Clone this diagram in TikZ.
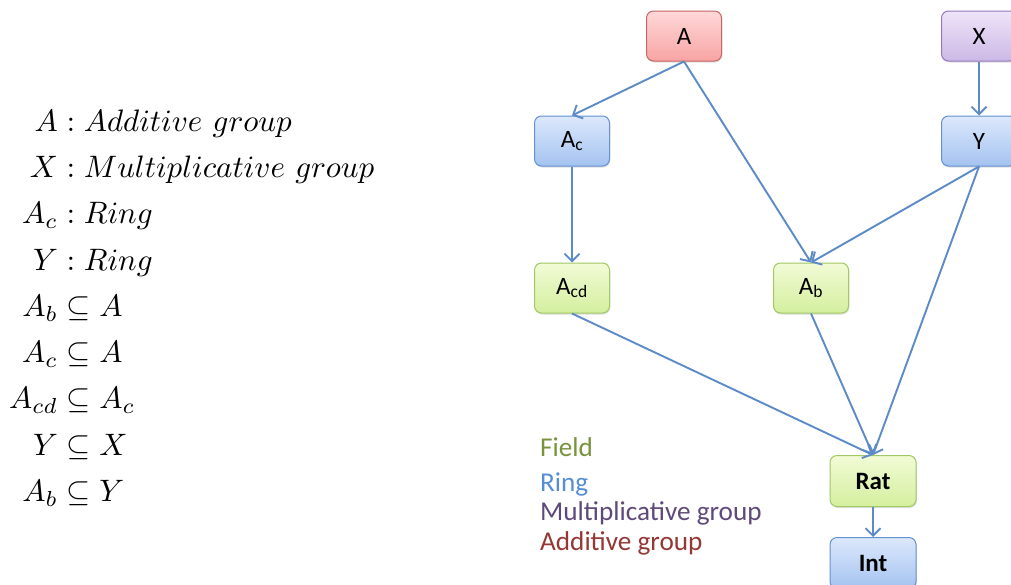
\documentclass[tikz,border=0pt]{standalone}
\usepackage{amsmath}
\usepackage{fontspec}
\newfontfamily\carlito{Carlito}
\usetikzlibrary{arrows.meta,shadows}
\definecolor{edgeblue}{RGB}{92,139,200}
\definecolor{fieldc}{HTML}{77933C}
\definecolor{ringc}{HTML}{558ED5}
\definecolor{multc}{HTML}{5F497A}
\definecolor{addc}{HTML}{953735}
\definecolor{redtop}{RGB}{255,216,216}\definecolor{redbot}{RGB}{248,164,164}\definecolor{redline}{RGB}{200,100,100}
\definecolor{purtop}{RGB}{238,228,248}\definecolor{purbot}{RGB}{204,184,230}\definecolor{purline}{RGB}{150,120,190}
\definecolor{blutop}{RGB}{220,232,252}\definecolor{blubot}{RGB}{164,195,240}\definecolor{bluline}{RGB}{100,145,210}
\definecolor{grntop}{RGB}{242,251,214}\definecolor{grnbot}{RGB}{212,239,158}\definecolor{grnline}{RGB}{160,200,100}
\tikzset{
  box/.style={rectangle, rounded corners=7pt, minimum width=75pt, minimum height=50pt,
    line width=1pt, inner sep=0pt, font=\carlito\fontsize{25}{30}\selectfont,
    drop shadow={shadow xshift=0.8pt, shadow yshift=-1.5pt, opacity=0.25}},
  redbox/.style={box, draw=redline, top color=redtop, bottom color=redbot},
  purplebox/.style={box, draw=purline, top color=purtop, bottom color=purbot},
  bluebox/.style={box, draw=bluline, top color=blutop, bottom color=blubot},
  greenbox/.style={box, draw=grnline, top color=grntop, bottom color=grnbot},
  wide/.style={minimum width=86pt, minimum height=51pt},
  link/.style={draw=edgeblue, line width=1.9pt, -{Straight Barb[length=7.5pt,width=15pt,line width=1.9pt]}},
  legend/.style={anchor=base west, inner sep=0pt, font=\carlito\fontsize{27.2}{32}\selectfont}
}
\begin{document}
\begin{tikzpicture}[x=1pt,y=-1pt]
\clip (0,0) rectangle (1011,584);
\fill[white] (0,0) rectangle (1011,584);

\node[anchor=west, inner sep=0pt] (math) at (9,309) {\scalebox{3.1}{\setlength{\jot}{2.92pt}%
$\begin{aligned}
A &: Additive\ group\\
X &: Multiplicative\ group\\
A_c &: Ring\\
Y &: Ring\\
A_b &\subseteq A\\
A_c &\subseteq A\\
A_{cd} &\subseteq A_c\\
Y &\subseteq X\\
A_b &\subseteq Y
\end{aligned}$}};

\node[redbox] (A) at (684,36) {A};
\node[purplebox] (X) at (979,36) {X};
\node[bluebox] (Ac) at (572,141) {A\textsubscript{c}};
\node[bluebox] (Y) at (979,141) {Y};
\node[greenbox] (Acd) at (572,288) {A\textsubscript{cd}};
\node[greenbox] (Ab) at (811,288) {A\textsubscript{b}};
\node[greenbox, wide] (Rat) at (873,481) {\bfseries Rat};
\node[bluebox, wide] (Int) at (873,563) {\bfseries Int};

\draw[link] (A.south) -- (Ac.north);
\draw[link] (A.south) -- (Ab.north);
\draw[link] (X.south) -- (Y.north);
\draw[link] (Y.south) -- (Ab.north);
\draw[link] (Y.south) -- (Rat.north);
\draw[link] (Ac.south) -- (Acd.north);
\draw[link] (Acd.south) -- (Rat.north);
\draw[link] (Ab.south) -- (Rat.north);
\draw[link] (Rat.south) -- (Int.north);

\node[legend, text=fieldc] (lf) at (540,456) {Field};
\node[legend, text=ringc] (lr) at (540,491) {Ring};
\node[legend, text=multc] (lm) at (540,520) {Multiplicative group};
\node[legend, text=addc] (la) at (540,550) {Additive group};
\end{tikzpicture}
\end{document}
